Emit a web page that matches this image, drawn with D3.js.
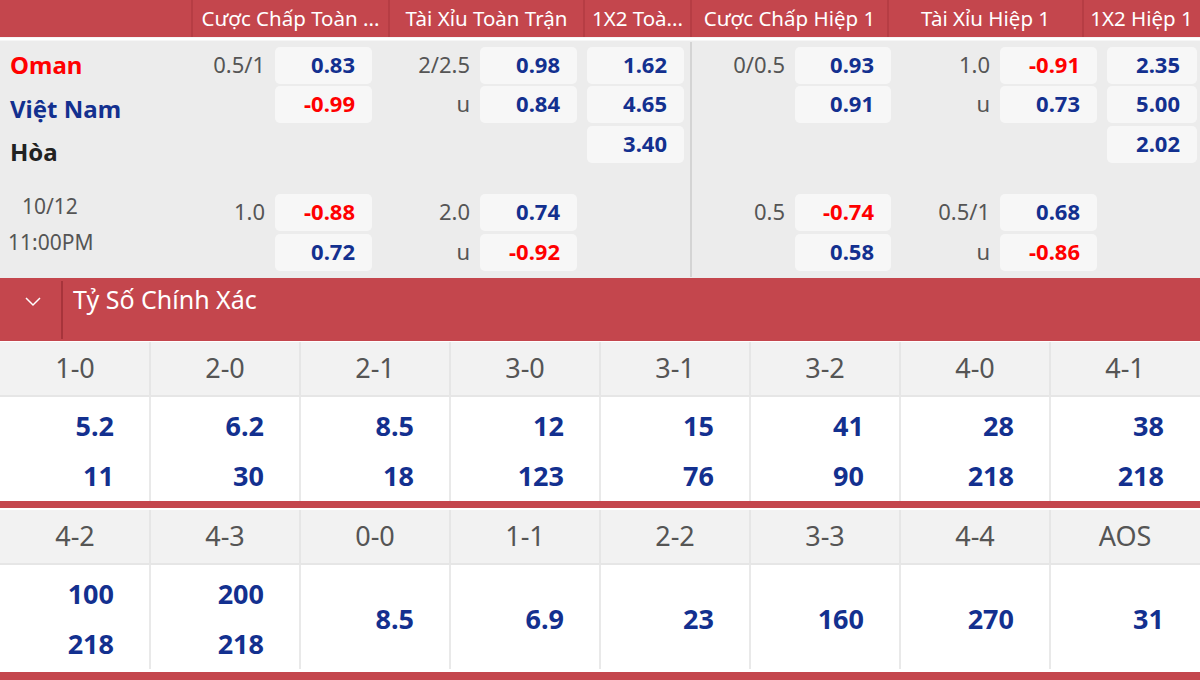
<!DOCTYPE html>
<html><head><meta charset="utf-8">
<script src="https://cdn.jsdelivr.net/npm/d3@7/dist/d3.min.js"></script>
<style>body{margin:0;background:#fff}svg{display:block;font-family:"Noto Sans","Open Sans",sans-serif}</style>
</head><body><svg id="c" width="1200" height="680"></svg>
<script>
const headers = ["", "Cược Chấp Toàn ...", "Tài Xỉu Toàn Trận", "1X2 Toà...", "Cược Chấp Hiệp 1", "Tài Xỉu Hiệp 1", "1X2 Hiệp 1"];
const headerEdges = [0, 192, 389, 584, 691, 888, 1083, 1200];
const teams = [{name:"Oman", color:"#ff0000"}, {name:"Việt Nam", color:"#13308f"}, {name:"Hòa", color:"#222"}];
const kickoff = ["10/12", "11:00PM"];
// market cells: [col index, row index (0..4), line label, odds]
const oddsCells = [
  [1,0,"0.5/1","0.83"],[1,1,"","-0.99"],[1,3,"1.0","-0.88"],[1,4,"","0.72"],
  [2,0,"2/2.5","0.98"],[2,1,"u","0.84"],[2,3,"2.0","0.74"],[2,4,"u","-0.92"],
  [3,0,"","1.62"],[3,1,"","4.65"],[3,2,"","3.40"],
  [4,0,"0/0.5","0.93"],[4,1,"","0.91"],[4,3,"0.5","-0.74"],[4,4,"","0.58"],
  [5,0,"1.0","-0.91"],[5,1,"u","0.73"],[5,3,"0.5/1","0.68"],[5,4,"u","-0.86"],
  [6,0,"","2.35"],[6,1,"","5.00"],[6,2,"","2.02"]
];
const sectionTitle = "Tỷ Số Chính Xác";
const scores1 = ["1-0","2-0","2-1","3-0","3-1","3-2","4-0","4-1"];
const odds1a = ["5.2","6.2","8.5","12","15","41","28","38"];
const odds1b = ["11","30","18","123","76","90","218","218"];
const scores2 = ["4-2","4-3","0-0","1-1","2-2","3-3","4-4","AOS"];
const odds2a = ["100","200","8.5","6.9","23","160","270","31"];
const odds2b = ["218","218",null,null,null,null,null,null];

const RED="#c4464d", NAVY="#13308f", NEG="#ff0000";
const svg = d3.select("#c");
const rowCenters = d3.scaleOrdinal().domain([0,1,2,3,4]).range([65,104,144,212,252]);
const teamY = d3.scaleOrdinal().domain([0,1,2]).range([65,109,152]);

svg.append("rect").attr("x",0).attr("y",0).attr("width",1200).attr("height",37).attr("fill",RED);
headers.forEach((h,i)=>{
  const x0=headerEdges[i], x1=headerEdges[i+1];
  if(i>0) svg.append("line").attr("x1",x0).attr("x2",x0).attr("y1",0).attr("y2",37).attr("stroke","#a8353c");
  svg.append("text").attr("x",(x0+x1)/2).attr("y",26).attr("text-anchor","middle").attr("fill","#fff").attr("font-size",20.5).text(h);
});
svg.append("rect").attr("x",0).attr("y",37).attr("width",1200).attr("height",241).attr("fill","#ececec");
svg.append("line").attr("x1",691).attr("x2",691).attr("y1",42).attr("y2",277).attr("stroke","#ccc").attr("stroke-width",1.5);
svg.append("line").attr("x1",0).attr("x2",1200).attr("y1",39).attr("y2",39).attr("stroke","#fff").attr("stroke-width",3);
teams.forEach((t,i)=>{
  svg.append("text").attr("x",10).attr("y",teamY(i)+9).attr("fill",t.color).attr("font-weight","bold").attr("font-size",24).text(t.name);
});
svg.append("text").attr("x",22).attr("y",214).attr("fill","#555").attr("font-size",21).text(kickoff[0]);
svg.append("text").attr("x",8).attr("y",250).attr("fill","#555").attr("font-size",21).text(kickoff[1]);
const boxes = {1:[275,372],2:[480,577],3:[587,684],4:[795,891],5:[1000,1097],6:[1107,1197]};
oddsCells.forEach(([c,r,line,v])=>{
  const [bx0,bx1]=boxes[c], cy=rowCenters(r);
  svg.append("rect").attr("x",bx0).attr("y",cy-18).attr("width",bx1-bx0).attr("height",37).attr("rx",5).attr("fill","#f7f7f7");
  svg.append("text").attr("x",bx1-17).attr("y",cy+8).attr("text-anchor","end").attr("font-weight","bold").attr("font-size",22)
    .attr("fill",v.startsWith("-")?NEG:NAVY).text(v);
  if(line) svg.append("text").attr("x",bx0-10).attr("y",cy+8).attr("text-anchor","end").attr("fill","#555").attr("font-size",22).text(line);
});
svg.append("rect").attr("x",0).attr("y",278).attr("width",1200).attr("height",63).attr("fill",RED);
svg.append("line").attr("x1",62).attr("x2",62).attr("y1",281).attr("y2",339).attr("stroke","#9e2f36").attr("stroke-width",1.5);
svg.append("path").attr("d","M26,298 L33,305 L40,298").attr("fill","none").attr("stroke","#fff").attr("stroke-width",1.5);
svg.append("text").attr("x",73).attr("y",309).attr("fill","#fff").attr("font-size",25).text(sectionTitle);

const x = d3.scaleBand().domain(d3.range(8)).range([0,1200]);
function block(top, labels, a, b){
  x.domain().forEach(i=>{
    const x0=x(i), w=x.bandwidth();
    svg.append("rect").attr("x",x0).attr("y",top).attr("width",w).attr("height",53).attr("fill","#f2f2f2");
    svg.append("rect").attr("x",x0).attr("y",top+55).attr("width",w).attr("height",104).attr("fill","#fff");
    if(i>0) svg.append("line").attr("x1",x0).attr("x2",x0).attr("y1",top).attr("y2",top+159).attr("stroke","#e2e2e2").attr("stroke-width",1.5);
    svg.append("text").attr("x",x0+w/2).attr("y",top+36).attr("text-anchor","middle").attr("fill","#555").attr("font-size",27).text(labels[i]);
    const tx=x0+114;
    const num=(y,t)=>svg.append("text").attr("x",tx).attr("y",y).attr("text-anchor","end").attr("fill",NAVY).attr("font-weight","bold").attr("font-size",27).text(t);
    if(b[i]!=null){ num(top+94,a[i]); num(top+144,b[i]); } else num(top+119,a[i]);
  });
  svg.append("line").attr("x1",0).attr("x2",1200).attr("y1",top+54).attr("y2",top+54).attr("stroke","#e6e6e6").attr("stroke-width",2);
}
block(342, scores1, odds1a, odds1b);
svg.append("rect").attr("x",0).attr("y",501).attr("width",1200).attr("height",7).attr("fill",RED);
block(510, scores2, odds2a, odds2b);
svg.append("rect").attr("x",0).attr("y",672).attr("width",1200).attr("height",8).attr("fill",RED);
</script></body></html>
